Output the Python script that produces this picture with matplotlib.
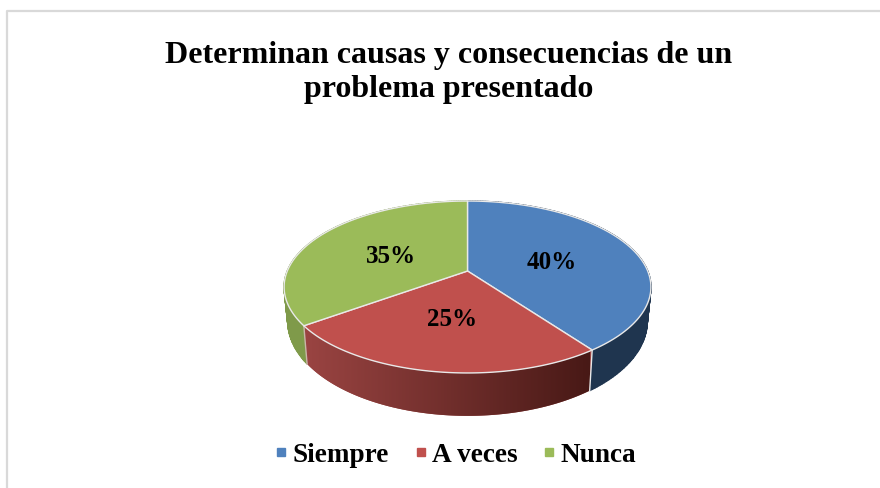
import numpy as np
import matplotlib
matplotlib.use("Agg")
import matplotlib.pyplot as plt
from matplotlib.colors import to_rgb
from matplotlib.lines import Line2D
from matplotlib.patches import Polygon

categories = ["Siempre", "A veces", "Nunca"]
values = [40, 25, 35]
top_colors = ["#4f81bd", "#c0504d", "#9bbb59"]
side_left = ["#1f354f", "#9a4442", "#7f9a4a"]
side_right = ["#1f354f", "#481916", "#7f9a4a"]
title = "Determinan causas y consecuencias de un\nproblema presentado"

plt.rcParams["font.family"] = ["Liberation Serif", "DejaVu Serif"]

# pie geometry in pixels, perspective tilt makes the apex sit above the ellipse centre
cx, cy = 467.5, 287
a, b, c, k = 180.2, 83, 16, 0.186
low_sx, low_sy, low_dy = 0.98, 1.10, 34.3


def top_xy(ang, r=1.0):
    x = r * np.sin(ang)
    y = r * np.cos(ang)
    d = 1 + k * y
    return cx + a * x / d, cy - (c + b * y / d)


def low_xy(ang):
    x, y = top_xy(ang)
    return cx + low_sx * (x - cx), cy + low_dy + low_sy * (y - cy)


fig = plt.figure(figsize=(8.8, 4.88), dpi=100)
ax = fig.add_axes([0, 0, 1, 1])

# chart border
ax.plot([7, 7, 880], [488, 11, 11], color="#d9d9d9", lw=1.6)

edges = np.cumsum([0] + values) / sum(values) * 2 * np.pi

# sides
for i in range(len(values)):
    angs = np.linspace(edges[i], edges[i + 1], 150)
    if side_left[i] == side_right[i]:
        # flat colour, quads overlap so the outer silhouette is filled too
        for j in range(len(angs) - 1):
            x1, y1 = top_xy(angs[j:j + 2])
            x2, y2 = low_xy(angs[j:j + 2])
            ax.fill(np.r_[x1, x2[::-1]], np.r_[y1, y2[::-1]], color=side_left[i], lw=1, zorder=2)
    else:
        x1, y1 = top_xy(angs)
        x2, y2 = low_xy(angs)
        poly = Polygon(np.c_[np.r_[x1, x2[::-1]], np.r_[y1, y2[::-1]]], closed=True,
                       facecolor=side_left[i], edgecolor="none", zorder=2)
        ax.add_patch(poly)
        t = np.linspace(0, 1, 256)[None, :, None]
        grad = (1 - t) * np.array(to_rgb(side_left[i])) + t * np.array(to_rgb(side_right[i]))
        im = ax.imshow(grad, extent=(305, 590, 420, 200), aspect="auto", zorder=2.5, interpolation="bilinear")
        im.set_clip_path(poly)

# side edges at the visible joints
for e, col in zip(edges[1:3], ["#e8e8e8", "#c9b5a8"]):
    x1, y1 = top_xy(e)
    x2, y2 = low_xy(e)
    ax.plot([x1, x2], [y1, y2], color=col, lw=1, zorder=3)

# top face
for i in range(len(values)):
    angs = np.linspace(edges[i], edges[i + 1], 120)
    x, y = top_xy(angs)
    x0, y0 = top_xy(0, 0)
    ax.fill(np.r_[x0, x], np.r_[y0, y], facecolor=top_colors[i], edgecolor="#e9e9e9", lw=1, zorder=4)
    mid = (edges[i] + edges[i + 1]) / 2
    lx, ly = top_xy(mid, 0.5)
    ax.text(lx + 0.5, ly + 3.5, "%d%%" % values[i], fontsize=18, fontweight="bold",
            ha="center", va="center", color="black", zorder=5)

ax.text(448.5, 72.5, title, fontsize=23, fontweight="bold", ha="center", va="center",
        linespacing=1.27, color="black")

handles = [Line2D([], [], ls="none", marker="s", ms=6, mfc=col, mec=col) for col in top_colors]
leg = ax.legend(handles, categories, ncol=3, frameon=False, loc="center",
                bbox_to_anchor=(454.5 / 880, 1 - 455 / 488), prop={"size": 19.6, "weight": "bold"},
                handlelength=0.6, handletextpad=0.1, columnspacing=0.88)

ax.set_xlim(0, 880)
ax.set_ylim(488, 0)
ax.axis("off")

fig.savefig("out.png", dpi=100)
